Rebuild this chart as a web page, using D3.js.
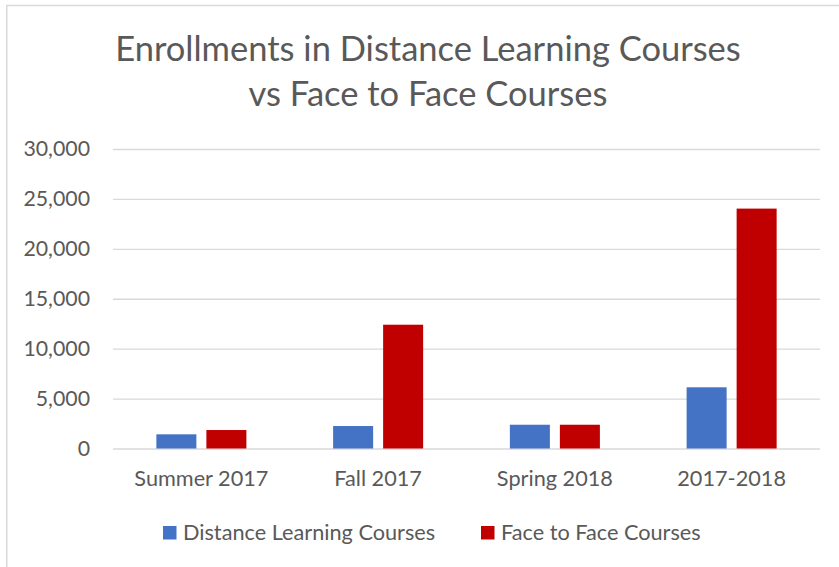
<!DOCTYPE html>
<html>
<head>
<meta charset="utf-8">
<script src="https://cdn.jsdelivr.net/npm/d3@7"></script>
<style>
  body { margin: 0; background: #fff; }
  svg { display: block; font-family: Lato, "Open Sans", sans-serif; }
</style>
</head>
<body>
<div id="chart"></div>
<script>
// values
const categories = ["Summer 2017", "Fall 2017", "Spring 2018", "2017-2018"]
const seriesNames = ["Distance Learning Courses", "Face to Face Courses"]
const distanceLearning = [1420, 2250, 2380, 6130]
const faceToFace = [1850, 12400, 2380, 24030]
const yTicks = [0, 5000, 10000, 15000, 20000, 25000, 30000]
const colors = ["#4472c4", "#c00000"]

const width = 839, height = 567
const margin = {top: 149, right: 19, bottom: 118.5, left: 113}
const innerW = width - margin.left - margin.right
const innerH = height - margin.top - margin.bottom

const svg = d3.select("#chart").append("svg")
    .attr("width", width)
    .attr("height", height)

// chart frame (only top and left edges show in the picture)
svg.append("line").attr("x1", 6.5).attr("x2", width).attr("y1", 5.5).attr("y2", 5.5)
    .attr("stroke", "#d9d9d9").attr("stroke-width", 1.5)
svg.append("line").attr("x1", 6.75).attr("x2", 6.75).attr("y1", 5).attr("y2", height)
    .attr("stroke", "#d9d9d9").attr("stroke-width", 1.5)

// title
const title = svg.append("text")
    .attr("text-anchor", "middle")
    .attr("fill", "#595959")
    .style("font-size", "34.5px")
title.append("tspan").attr("x", 428).attr("y", 61).text("Enrollments in Distance Learning Courses")
title.append("tspan").attr("x", 428).attr("y", 106).text("vs Face to Face Courses")

const g = svg.append("g")
    .attr("transform", "translate(" + margin.left + "," + margin.top + ")")

const x0 = d3.scaleBand()
    .domain(categories)
    .range([0, innerW])
    .padding(0)

const x1 = d3.scaleBand()
    .domain(seriesNames)
    .range([0, x0.bandwidth()])
    .paddingInner(0.2)
    .paddingOuter(0.867)

const y = d3.scaleLinear()
    .domain([0, 30000])
    .range([innerH, 0])

// gridlines
g.append("g")
    .attr("class", "grid")
    .call(d3.axisLeft(y).tickValues(yTicks).tickSize(-innerW).tickFormat(""))
    .call(s => s.select(".domain").remove())
    .call(s => s.selectAll("line").attr("stroke", "#d9d9d9").attr("stroke-width", 1.3))

// y axis labels
g.append("g")
    .call(d3.axisLeft(y).tickValues(yTicks).tickSize(0).tickPadding(23).tickFormat(d3.format(",")))
    .call(s => s.select(".domain").remove())
    .call(s => s.selectAll("text")
        .attr("fill", "#595959")
        .style("font-size", "21.3px")
        .style("font-family", "Lato, sans-serif"))

// x axis labels
g.append("g")
    .attr("transform", "translate(0," + innerH + ")")
    .call(d3.axisBottom(x0).tickSize(0).tickPadding(22.5))
    .call(s => s.select(".domain").remove())
    .call(s => s.selectAll("text")
        .attr("fill", "#595959")
        .style("font-size", "21.7px")
        .style("font-family", "Lato, sans-serif"))

const rows = categories.map((c, i) => ({
    cat: c,
    vals: [distanceLearning[i], faceToFace[i]]
}))

const groups = g.selectAll(".grp")
    .data(rows)
    .enter()
    .append("g")
    .attr("class", "grp")
    .attr("transform", d => "translate(" + x0(d.cat) + ",0)")

groups.selectAll("rect")
    .data(d => d.vals.map((v, j) => ({name: seriesNames[j], value: v, j: j})))
    .enter()
    .append("rect")
    .attr("x", d => x1(d.name))
    .attr("y", d => y(d.value))
    .attr("width", x1.bandwidth())
    .attr("height", d => innerH - y(d.value))
    .attr("fill", d => colors[d.j])

// legend
const legendItems = [{x: 163}, {x: 481}]
const legend = svg.append("g")
legendItems.forEach((it, i) => {
    legend.append("rect")
        .attr("x", it.x).attr("y", 526)
        .attr("width", 13.5).attr("height", 13.5)
        .attr("fill", colors[i])
    legend.append("text")
        .attr("x", it.x + 20).attr("y", 540)
        .attr("fill", "#595959")
        .style("font-size", "21.7px")
        .text(seriesNames[i])
})
</script>
</body>
</html>
